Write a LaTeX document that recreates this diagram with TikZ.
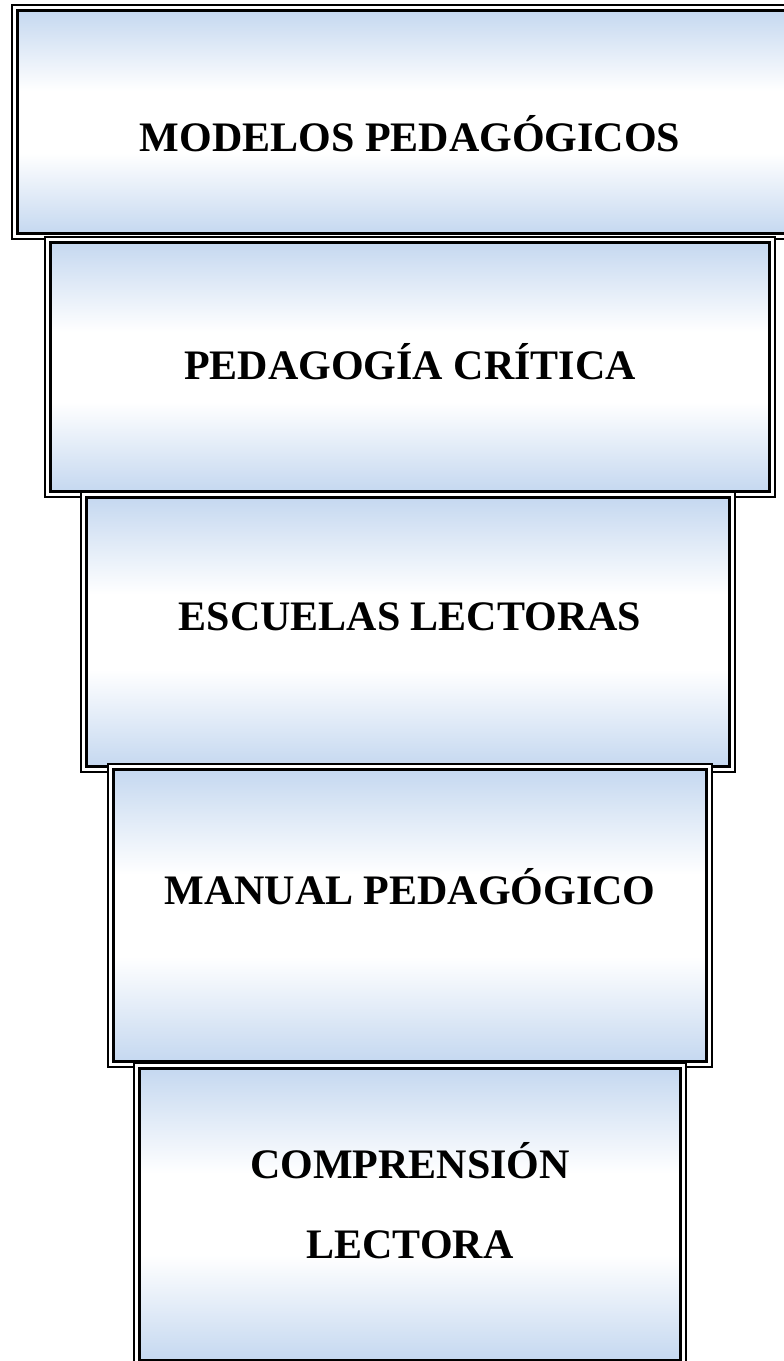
\documentclass[tikz,border=0pt]{standalone}
\usepackage{fontspec}
\setmainfont{Liberation Serif}
\definecolor{boxblue}{RGB}{197,216,240}
% 上下蓝色、中间白色的渐变
\pgfdeclareverticalshading{boxfade}{100bp}{color(0bp)=(boxblue); color(25bp)=(boxblue); color(43bp)=(white); color(57bp)=(white); color(75bp)=(boxblue); color(100bp)=(boxblue)}

\begin{document}
\begin{tikzpicture}[x=1pt, y=-1pt,
    outer frame/.style={draw=black, line width=1.8pt, fill=white},
    inner frame/.style={draw=black, line width=3pt, shading=boxfade},
    level text/.style={font=\fontsize{42}{80}\selectfont\bfseries, align=center}]
    % 固定画布大小
    \clip (0,0) rectangle (784,1361);

    % 绘制第一层 MODELOS PEDAGOGICOS
    \draw[outer frame] (12,5) rectangle (808,239);
    \draw[inner frame] (17.5,10.5) rectangle (802.5,233.5);
    \node[level text] (modelos) at (410,134) {MODELOS PEDAGÓGICOS};

    % 绘制第二层 PEDAGOGIA CRITICA
    \draw[outer frame] (45,237) rectangle (775,497);
    \draw[inner frame] (50.5,242.5) rectangle (769.5,491.5);
    \node[level text] (critica) at (410,362) {PEDAGOGÍA CRÍTICA};

    % 绘制第三层 ESCUELAS LECTORAS
    \draw[outer frame] (81,492) rectangle (735,772);
    \draw[inner frame] (86.5,497.5) rectangle (729.5,766.5);
    \node[level text] (escuelas) at (410,617) {ESCUELAS LECTORAS};

    % 绘制第四层 MANUAL PEDAGOGICO
    \draw[outer frame] (108,764) rectangle (712,1067);
    \draw[inner frame] (113.5,769.5) rectangle (706.5,1061.5);
    \node[level text] (manual) at (410,887) {MANUAL PEDAGÓGICO};

    % 绘制第五层 COMPRENSION LECTORA
    \draw[outer frame] (134,1063) rectangle (686,1366);
    \draw[inner frame] (139.5,1068.5) rectangle (680.5,1360);
    \node[level text] (comprension) at (410,1201) {COMPRENSIÓN\\LECTORA};
\end{tikzpicture}
\end{document}
